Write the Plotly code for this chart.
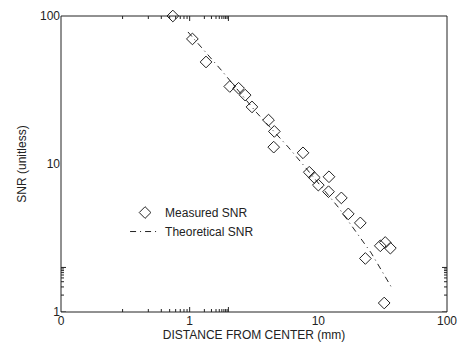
import math
import plotly.graph_objects as go

# Measured SNR points (distance mm, SNR)
meas_x = [0.74, 1.05, 1.34, 2.05, 2.4, 2.7, 3.05, 4.1, 4.55, 4.5, 7.6, 8.5, 9.3, 10.0, 12.1, 12.0, 15.1, 17.1, 21.2, 23.2, 30.3, 33.1, 36.3, 32.5]
meas_y = [100, 70, 48.9, 33.4, 32.5, 29.2, 24.3, 19.8, 16.6, 13.0, 11.9, 8.8, 8.1, 7.2, 8.2, 6.5, 5.9, 4.6, 4.0, 2.3, 2.8, 2.95, 2.7, 1.15]

# Theoretical SNR curve
theo_x = [0.97, 1.76, 3.29, 5.84, 7.92, 14.3, 25.8, 37.0]
theo_y = [78, 43.1, 22.4, 13.0, 9.5, 5.1, 2.5, 1.47]

x_tickvals = [0.1, 1, 10, 100]
x_ticktext = ["0", "1", "10", "100"]
y_tickvals = [1, 10, 100]
y_ticktext = ["1", "10", "100"]
x_minor = [m * d for d in (0.1, 1, 10) for m in range(2, 10)]
y_minor = [m * d for d in (1, 10) for m in range(2, 10)]

ink = "#222222"
font = dict(family="Liberation Sans, Arial, sans-serif", size=12, color=ink)

fig = go.Figure()
fig.add_trace(go.Scatter(
    x=meas_x, y=meas_y, mode="markers", name="Measured SNR",
    marker=dict(symbol="diamond-open", size=9, color=ink, line=dict(width=1, color=ink)),
    cliponaxis=False,
))
fig.add_trace(go.Scatter(
    x=theo_x, y=theo_y, mode="lines", name="Theoretical SNR",
    line=dict(color=ink, width=1, dash="6px,4px,1px,4px"),
))

axis_common = dict(
    type="log", showline=False, ticks="", showgrid=False, zeroline=False,
    automargin=False,
)

# Tick marks drawn as shapes anchored at axis values (log axes use log10 units)
shapes = [dict(type="rect", xref="paper", yref="paper", x0=0, x1=1, y0=0, y1=1,
               line=dict(color=ink, width=1), layer="above")]
tick_line = dict(color=ink, width=1)
for vals, ln in ((x_tickvals, 5), (x_minor, 3)):
    for v in vals:
        lv = math.log10(v)
        for anchor, sign in ((0, 1), (1, -1)):
            shapes.append(dict(type="line", xref="x", yref="paper", x0=lv, x1=lv,
                               ysizemode="pixel", yanchor=anchor, y0=0, y1=sign * ln,
                               line=tick_line, layer="above"))
for vals, ln in ((y_tickvals, 5), (y_minor, 3)):
    for v in vals:
        lv = math.log10(v)
        for anchor, sign in ((0, 1), (1, -1)):
            shapes.append(dict(type="line", yref="y", xref="paper", y0=lv, y1=lv,
                               xsizemode="pixel", xanchor=anchor, x0=0, x1=sign * ln,
                               line=tick_line, layer="above"))

fig.update_layout(
    width=459, height=343,
    margin=dict(l=61, r=12, t=16, b=31),
    paper_bgcolor="white", plot_bgcolor="white",
    font=font,
    xaxis=dict(axis_common, range=[-1, 2], tickvals=x_tickvals, ticktext=x_ticktext,
               title=dict(text="DISTANCE FROM CENTER (mm)", standoff=2, font=dict(size=12))),
    yaxis=dict(axis_common, range=[0, 2], tickvals=y_tickvals, ticktext=y_ticktext,
               title=dict(text="SNR (unitless)", standoff=10, font=dict(size=12))),
    legend=dict(x=0.166, y=0.385, xanchor="left", yanchor="top", bgcolor="rgba(0,0,0,0)",
                font=dict(size=12), itemwidth=30, tracegroupgap=0),
    showlegend=True,
    shapes=shapes,
)

fig.write_html(
    "out.html",
    config={"displayModeBar": False},
    post_script="document.body.style.margin='0';document.body.style.overflow='hidden';",
)
